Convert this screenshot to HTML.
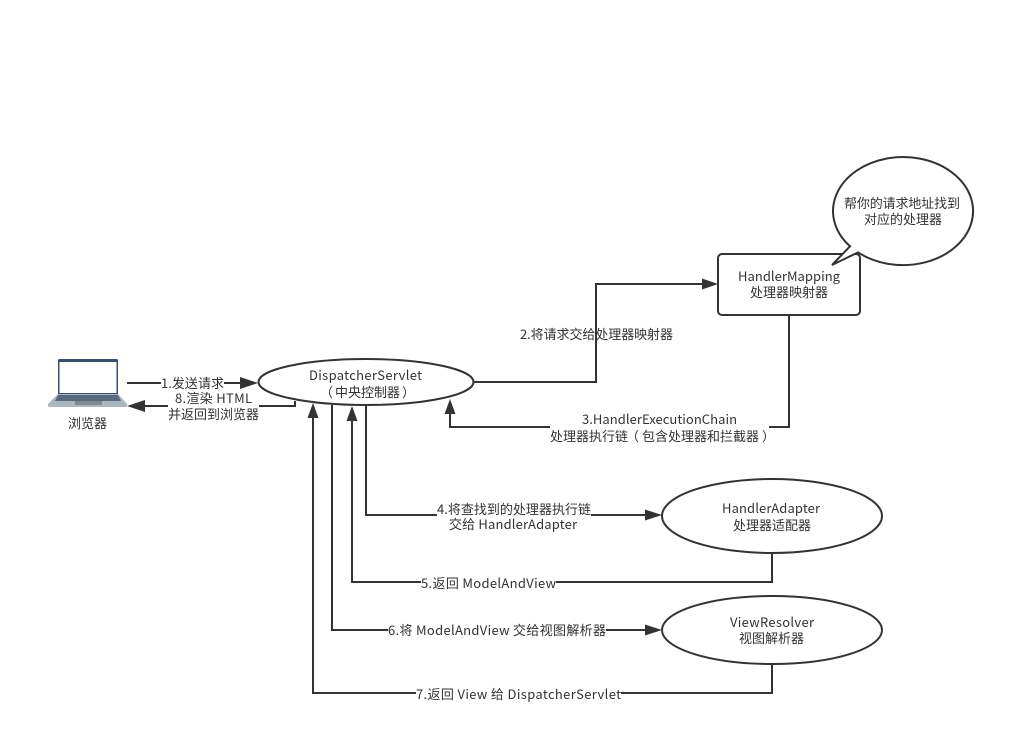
<!DOCTYPE html>
<html>
<head>
<meta charset="utf-8">
<style>
html,body{margin:0;padding:0;background:#fff;width:1034px;height:755px;overflow:hidden}
svg{display:block}
text{font-family:"Noto Sans CJK SC","Liberation Sans",sans-serif;font-size:13px;fill:#333}
.l{fill:none;stroke:#333;stroke-width:2}
.s{fill:#fff;stroke:#333;stroke-width:2}
.a{fill:#333;stroke:none}
</style>
</head>
<body>
<svg width="1034" height="755" viewBox="0 0 1034 755" xmlns="http://www.w3.org/2000/svg">
<rect width="1034" height="755" fill="#fff"/>

<!-- laptop -->
<path d="M58 395V360.500Q58 359 59.500 359H116.500Q118 359 118 360.500V395Z" fill="#36506b"/>
<rect x="59.500" y="362" width="57" height="31" fill="#fff"/>
<path d="M58 394H118L127 404Q127.500 407 125 407H50Q47.500 407 48 404Z" fill="#a9b7c1"/>
<path d="M58 395H118L121 401H55Z" fill="#566a7c"/>
<rect x="75" y="401" width="27" height="4" fill="#7f8b94"/>

<!-- edge 1 -->
<path class="l" d="M127 383H242"/>
<path class="a" d="M258 383L240 377V389Z"/>
<!-- edge 8 -->
<path class="l" d="M295 401V406H142"/>
<path class="a" d="M127 406L145 400V412Z"/>
<!-- edge 2 -->
<path class="l" d="M474 382H596V284H704"/>
<path class="a" d="M718 284L702 278.500V289.500Z"/>
<!-- edge 3 -->
<path class="l" d="M789 315V427H450V412"/>
<path class="a" d="M450 399L444.500 414H455.500Z"/>
<!-- edge 4 -->
<path class="l" d="M366 405V515H648"/>
<path class="a" d="M662 515L645 509.500V520.500Z"/>
<!-- edge 5 -->
<path class="l" d="M772 553V582H352V420"/>
<path class="a" d="M352 406L346.500 421H357.500Z"/>
<!-- edge 6 -->
<path class="l" d="M332 405V630H648"/>
<path class="a" d="M662 630L645 624.500V635.500Z"/>
<!-- edge 7 -->
<path class="l" d="M772 664V693H313V417"/>
<path class="a" d="M313 403L307.500 418H318.500Z"/>

<!-- nodes -->
<ellipse class="s" cx="366" cy="382" rx="107.500" ry="23"/>
<rect class="s" x="718" y="254" width="142" height="61" rx="4" ry="4"/>
<ellipse class="s" cx="772" cy="516" rx="110" ry="37"/>
<ellipse class="s" cx="772" cy="630" rx="110" ry="34"/>
<path class="s" d="M850 246.300A70 54 0 1 1 858 252.400L832 265Z"/>

<!-- label backgrounds -->
<rect x="161" y="375" width="63" height="16" fill="#fff"/>
<rect x="168" y="391" width="91" height="31" fill="#fff"/>
<rect x="550" y="411" width="219" height="33" fill="#fff"/>
<rect x="437" y="501" width="154" height="32" fill="#fff"/>
<rect x="421" y="575" width="135" height="16" fill="#fff"/>
<rect x="388" y="623" width="218" height="16" fill="#fff"/>
<rect x="416" y="686" width="205" height="16" fill="#fff"/>

<!-- labels -->
<text x="68" y="428" textLength="39" lengthAdjust="spacing">浏览器</text>
<text x="161" y="388" textLength="63" lengthAdjust="spacing">1.发送请求</text>
<text x="175" y="403" textLength="77" lengthAdjust="spacing">8.渲染 HTML</text>
<text x="168" y="419" textLength="91" lengthAdjust="spacing">并返回到浏览器</text>
<text x="309" y="380" textLength="113" lengthAdjust="spacing">DispatcherServlet</text>
<text x="320" y="397">（</text>
<text x="335" y="397" textLength="65" lengthAdjust="spacing">中央控制器</text>
<text x="402" y="397">）</text>
<text x="520" y="339" textLength="153" lengthAdjust="spacing">2.将请求交给处理器映射器</text>
<text x="738" y="281" textLength="102" lengthAdjust="spacing">HandlerMapping</text>
<text x="750" y="297" textLength="78" lengthAdjust="spacing">处理器映射器</text>
<text x="844" y="208" textLength="116" lengthAdjust="spacing">帮你的请求地址找到</text>
<text x="864" y="224" textLength="78" lengthAdjust="spacing">对应的处理器</text>
<text x="582" y="424" textLength="155" lengthAdjust="spacing">3.HandlerExecutionChain</text>
<text x="550" y="441" textLength="78" lengthAdjust="spacing">处理器执行链</text>
<text x="626" y="441">（</text>
<text x="642" y="441" textLength="117" lengthAdjust="spacing">包含处理器和拦截器</text>
<text x="762" y="441">）</text>
<text x="437" y="514" textLength="154" lengthAdjust="spacing">4.将查找到的处理器执行链</text>
<text x="449" y="529" textLength="128" lengthAdjust="spacing">交给 HandlerAdapter</text>
<text x="722" y="513" textLength="98" lengthAdjust="spacing">HandlerAdapter</text>
<text x="733" y="530" textLength="78" lengthAdjust="spacing">处理器适配器</text>
<text x="421" y="588" textLength="135" lengthAdjust="spacing">5.返回 ModelAndView</text>
<text x="388" y="635" textLength="218" lengthAdjust="spacing">6.将 ModelAndView 交给视图解析器</text>
<text x="730" y="627" textLength="84" lengthAdjust="spacing">ViewResolver</text>
<text x="739" y="643" textLength="65" lengthAdjust="spacing">视图解析器</text>
<text x="416" y="699" textLength="205" lengthAdjust="spacing">7.返回 View 给 DispatcherServlet</text>
</svg>
</body>
</html>
